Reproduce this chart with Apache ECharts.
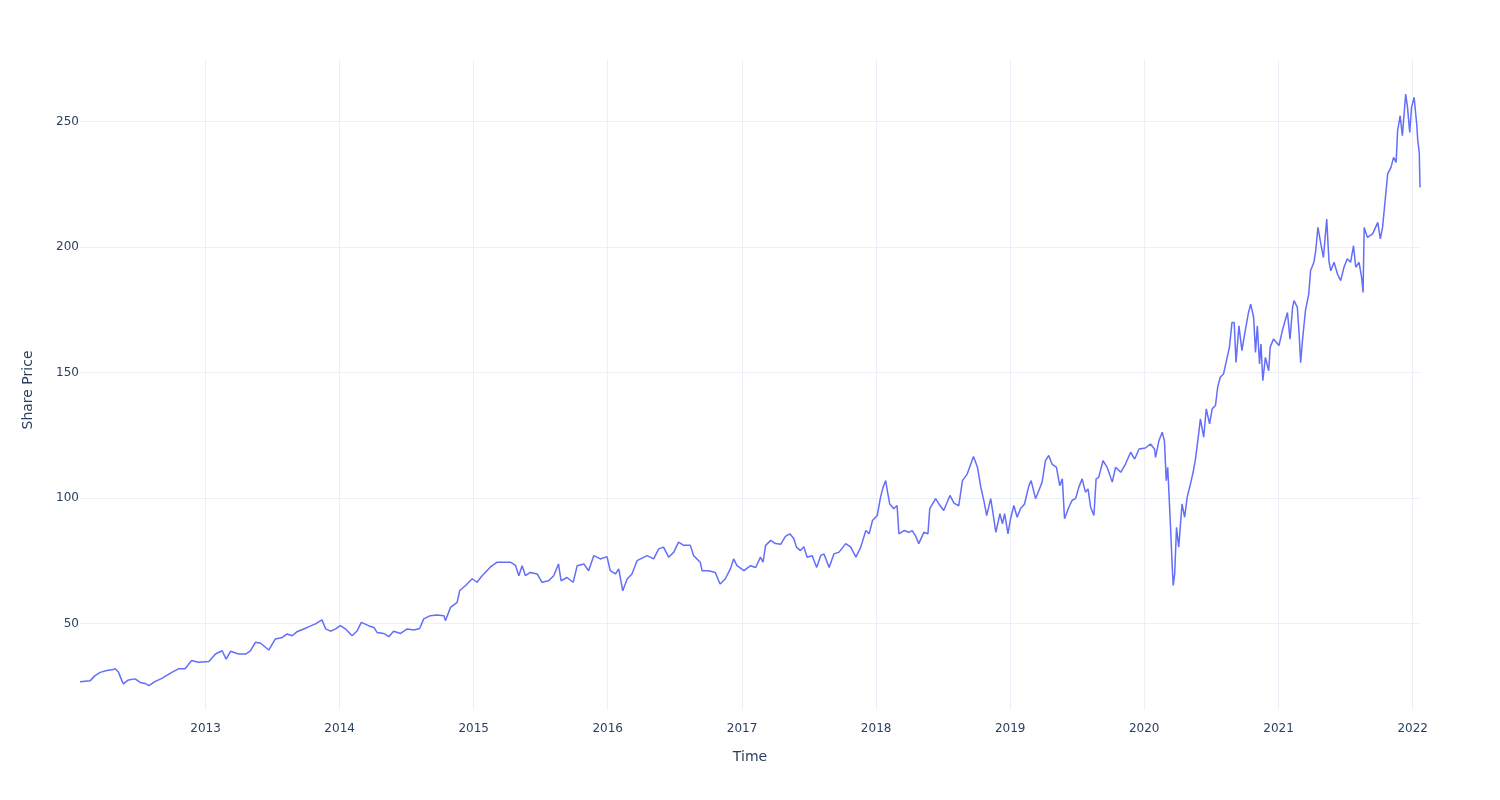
<!DOCTYPE html>
<html>
<head>
<meta charset="utf-8">
<script src="https://cdn.jsdelivr.net/npm/echarts@6/dist/echarts.min.js"></script>
<style>html,body{margin:0;padding:0;background:#fff}#c{width:1500px;height:800px}</style>
</head>
<body>
<div id="c"></div>
<script>
const dates = [
"2012-01-25","2012-02-22","2012-03-06","2012-03-20","2012-04-07","2012-04-21","2012-04-30","2012-05-09","2012-05-18","2012-05-22","2012-06-05","2012-06-23","2012-07-07","2012-07-20","2012-07-31","2012-08-17","2012-09-04","2012-10-01","2012-10-19","2012-11-06","2012-11-24","2012-12-12",
"2013-01-10","2013-01-28","2013-02-15","2013-02-26","2013-03-10","2013-04-01","2013-04-20","2013-05-03","2013-05-17","2013-05-31","2013-06-13","2013-06-22","2013-07-10","2013-07-29","2013-08-11","2013-08-25","2013-09-07","2013-10-05","2013-10-27","2013-11-14","2013-11-24","2013-12-07","2013-12-21",
"2014-01-03","2014-01-17","2014-02-04","2014-02-18","2014-03-01","2014-03-21","2014-04-04","2014-04-13","2014-05-01","2014-05-15","2014-05-28","2014-06-16","2014-07-04","2014-07-22","2014-08-07","2014-08-18","2014-09-05","2014-09-23","2014-10-12","2014-10-16","2014-10-30","2014-11-17","2014-11-24","2014-12-10","2014-12-28",
"2015-01-10","2015-01-24","2015-02-15","2015-03-06","2015-03-24","2015-04-11","2015-04-25","2015-05-04","2015-05-13","2015-05-22","2015-06-04","2015-06-23","2015-07-06","2015-07-24","2015-08-07","2015-08-20","2015-08-27","2015-09-12","2015-09-29","2015-10-10","2015-10-28","2015-11-10","2015-11-24","2015-12-12","2015-12-30",
"2016-01-08","2016-01-22","2016-01-31","2016-02-11","2016-02-23","2016-03-07","2016-03-21","2016-04-17","2016-05-05","2016-05-19","2016-06-01","2016-06-15","2016-06-29","2016-07-12","2016-07-26","2016-08-13","2016-08-22","2016-09-09","2016-09-14","2016-10-02","2016-10-20","2016-11-02","2016-11-16","2016-11-30","2016-12-09","2016-12-18",
"2017-01-06","2017-01-24","2017-02-07","2017-02-20","2017-02-27","2017-03-06","2017-03-20","2017-04-02","2017-04-16","2017-04-29","2017-05-11","2017-05-22","2017-05-29","2017-06-09","2017-06-18","2017-06-27","2017-07-11","2017-07-23","2017-08-03","2017-08-12","2017-08-26","2017-09-08","2017-09-22","2017-10-10","2017-10-24","2017-11-07","2017-11-20","2017-12-04","2017-12-13","2017-12-22",
"2018-01-04","2018-01-13","2018-01-20","2018-01-27","2018-02-02","2018-02-07","2018-02-18","2018-02-27","2018-03-04","2018-03-18","2018-03-31","2018-04-09","2018-04-18","2018-04-27","2018-05-11","2018-05-22","2018-05-27","2018-06-12","2018-06-21","2018-07-04","2018-07-21","2018-08-01","2018-08-14","2018-08-24","2018-09-06","2018-09-23","2018-10-04","2018-10-13","2018-10-22","2018-10-29","2018-11-09","2018-11-14","2018-11-23","2018-12-04","2018-12-11","2018-12-17","2018-12-26",
"2019-01-02","2019-01-11","2019-01-20","2019-01-29","2019-02-09","2019-02-21","2019-02-27","2019-03-11","2019-03-20","2019-03-29","2019-04-07","2019-04-16","2019-04-25","2019-05-07","2019-05-16","2019-05-23","2019-05-29","2019-06-10","2019-06-19","2019-06-28","2019-07-07","2019-07-16","2019-07-25","2019-08-01","2019-08-08","2019-08-17","2019-08-23","2019-08-30","2019-09-11","2019-09-22","2019-10-06","2019-10-15","2019-10-29","2019-11-11","2019-11-25","2019-12-06","2019-12-18",
"2020-01-04","2020-01-18","2020-01-29","2020-02-01","2020-02-10","2020-02-19","2020-02-25","2020-03-01","2020-03-05","2020-03-11","2020-03-17","2020-03-20","2020-03-24","2020-03-29","2020-04-04","2020-04-13","2020-04-20","2020-04-27","2020-05-06","2020-05-13","2020-05-19","2020-05-26","2020-06-02","2020-06-11","2020-06-18","2020-06-27","2020-07-04","2020-07-13","2020-07-19","2020-07-26","2020-08-04","2020-08-13","2020-08-20","2020-08-27","2020-09-02","2020-09-07","2020-09-15","2020-09-23","2020-10-02","2020-10-11","2020-10-17","2020-10-25","2020-10-30","2020-11-04","2020-11-10","2020-11-14","2020-11-19","2020-11-26","2020-12-05","2020-12-09","2020-12-18",
"2021-01-02","2021-01-11","2021-01-25","2021-02-01","2021-02-08","2021-02-12","2021-02-21","2021-02-26","2021-03-02","2021-03-07","2021-03-15","2021-03-24","2021-03-29","2021-04-07","2021-04-12","2021-04-18","2021-04-26","2021-05-03","2021-05-12","2021-05-18","2021-05-23","2021-06-01","2021-06-10","2021-06-19","2021-06-28","2021-07-07","2021-07-16","2021-07-24","2021-07-30","2021-08-08","2021-08-15","2021-08-19","2021-08-22","2021-08-31","2021-09-14","2021-09-28","2021-10-05","2021-10-11","2021-10-18","2021-10-25","2021-11-03","2021-11-10","2021-11-17","2021-11-21","2021-11-28","2021-12-04","2021-12-13","2021-12-18","2021-12-24","2021-12-29",
"2022-01-05","2022-01-12","2022-01-15","2022-01-19","2022-01-21"
];
const prices = [
26.9,27.3,29.3,30.6,31.3,31.6,32.0,30.6,27.3,26.0,27.6,28.0,26.6,26.2,25.3,27.0,28.2,30.6,32.0,32.0,35.3,34.6,
34.9,37.9,39.2,35.9,39.0,37.9,37.9,39.2,42.6,42.2,40.6,39.5,43.9,44.5,45.9,45.2,46.8,48.5,49.9,51.5,47.9,47.0,47.9,
49.2,47.9,45.2,47.2,50.5,49.2,48.5,46.5,46.1,44.8,47.0,46.1,47.9,47.5,48.1,51.9,53.2,53.5,53.2,51.2,56.5,58.5,63.2,65.2,67.9,
66.5,69.1,72.5,74.5,74.5,74.5,73.2,69.1,73.1,69.1,70.4,69.8,66.5,67.1,69.1,73.8,67.1,68.4,66.5,73.1,73.8,71.1,77.1,75.8,76.7,
71.1,69.8,71.8,63.1,67.8,69.8,75.1,77.1,75.8,79.8,80.5,76.5,78.5,82.5,81.2,81.2,77.1,74.5,71.1,71.1,70.4,65.8,67.8,71.8,75.8,73.1,
71.1,73.1,72.4,76.5,74.5,81.2,83.2,81.9,81.6,84.8,85.8,83.8,80.5,79.1,80.7,76.5,77.1,72.4,77.1,77.8,72.4,77.8,78.5,81.9,80.5,76.5,80.5,87.1,85.8,91.1,
93.1,100.4,104.4,107.0,101.7,97.7,95.8,97.1,85.8,87.1,86.4,87.1,85.1,81.9,86.4,85.8,95.8,99.8,97.7,95.1,101.1,98.0,97.0,107.0,109.6,116.6,112.3,104.4,98.5,93.1,99.8,95.1,86.4,93.8,89.8,93.8,85.8,
91.8,97.1,92.4,95.8,97.7,105.0,107.0,99.8,103.1,106.4,115.0,117.0,113.6,112.3,105.0,107.7,91.8,96.5,99.2,99.8,104.4,107.7,102.4,103.7,96.5,93.1,107.7,108.3,115.0,112.3,106.4,112.3,110.3,113.6,118.3,115.6,119.6,
120.0,121.6,119.6,116.3,122.9,126.3,122.9,107.0,112.3,93.8,73.8,65.2,69.8,88.4,80.5,97.7,92.4,100.4,105.7,110.3,115.0,122.9,131.6,124.3,135.6,129.6,135.6,136.9,144.2,148.2,149.5,155.5,160.1,170.0,170.0,154.1,168.7,158.8,166.7,174.0,177.3,172.0,158.1,168.7,153.5,161.4,146.8,156.1,150.8,160.1,163.4,
160.8,166.7,174.0,163.4,176.0,178.7,176.0,165.0,154.0,163.0,174.7,181.3,190.6,194.0,198.6,207.9,201.3,195.9,211.2,194.6,190.6,194.0,189.4,186.7,192.0,195.4,194.0,200.6,192.0,194.0,188.0,182.0,207.9,203.9,205.3,209.9,203.3,207.9,218.5,229.2,231.8,235.8,233.8,246.4,252.4,244.4,261.0,255.7,245.7,255.7,
259.7,249.1,242.4,237.8,223.8
];
const yTicks = [50, 100, 150, 200, 250];
const xTickLabels = ["2013", "2014", "2015", "2016", "2017", "2018", "2019", "2020", "2021", "2022"];

const toTime = s => { const p = s.split('-').map(Number); return Date.UTC(p[0], (p[1] || 1) - 1, p[2] || 1); };
const xTicks = xTickLabels.map(y => toTime(y));
const chart = echarts.init(document.getElementById('c'));
const font = 'DejaVu Sans';
chart.setOption({
  animation: false,
  backgroundColor: '#ffffff',
  grid: { left: 80, right: 80, top: 60, bottom: 90, containLabel: false },
  xAxis: {
    type: 'value',
    min: toTime(dates[0]),
    max: toTime(dates[dates.length - 1]),
    name: 'Time',
    nameLocation: 'middle',
    nameGap: 40,
    nameTextStyle: { color: '#2a3f5f', fontSize: 14, fontFamily: font },
    axisLine: { show: false },
    axisTick: { show: false, customValues: xTicks },
    axisLabel: {
      customValues: xTicks,
      color: '#2a3f5f', fontSize: 12, fontFamily: font, margin: 13,
      formatter: v => String(new Date(v).getUTCFullYear())
    },
    splitLine: { show: true, lineStyle: { color: '#ebf0f8', width: 1 } }
  },
  yAxis: {
    type: 'value',
    min: 15.6,
    max: 274.6,
    name: 'Share Price',
    nameLocation: 'middle',
    nameGap: 45,
    nameTextStyle: { color: '#2a3f5f', fontSize: 14, fontFamily: font, padding: [0, 10, 0, 0] },
    axisLine: { show: false },
    axisTick: { show: false, customValues: yTicks },
    axisLabel: {
      customValues: yTicks,
      color: '#2a3f5f', fontSize: 12, fontFamily: font, margin: 1
    },
    splitLine: { show: true, lineStyle: { color: '#ebf0f8', width: 1 } }
  },
  series: [{
    type: 'line',
    data: dates.map((d, i) => [toTime(d), prices[i]]),
    showSymbol: false,
    symbol: 'none',
    lineStyle: { color: '#636efa', width: 1.5 },
    itemStyle: { color: '#636efa' }
  }]
});
</script>
</body>
</html>
